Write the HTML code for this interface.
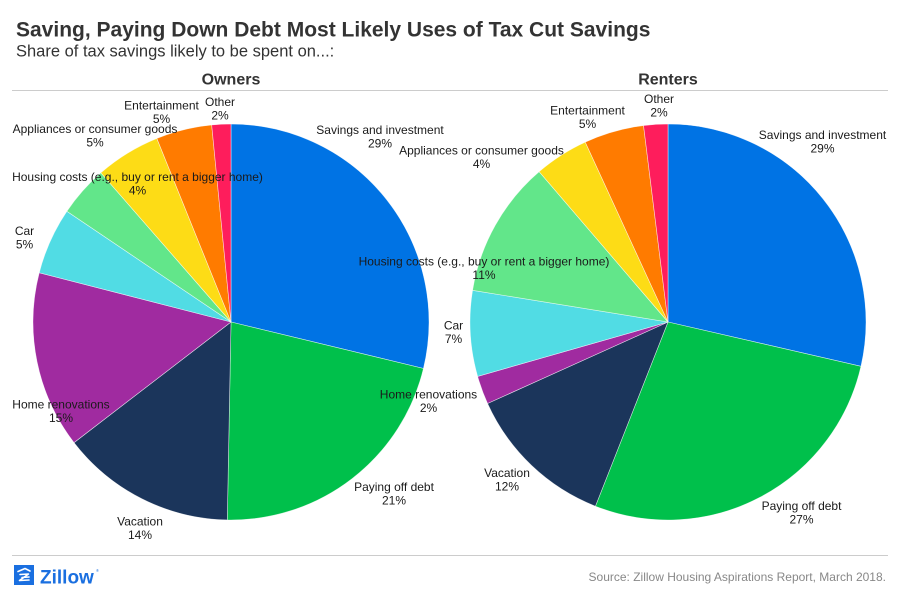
<!DOCTYPE html>
<html>
<head>
<meta charset="utf-8">
<style>
  html,body{margin:0;padding:0;background:#fff;}
  svg{display:block;}
  text{font-family:"Liberation Sans",Arial,sans-serif;}
</style>
</head>
<body>
<svg width="900" height="600" viewBox="0 0 900 600" xmlns="http://www.w3.org/2000/svg">
  <rect width="900" height="600" fill="#fff"/>

  <!-- Title -->
  <text x="16" y="36.5" font-size="21" font-weight="bold" fill="#333">Saving, Paying Down Debt Most Likely Uses of Tax Cut Savings</text>
  <text x="16" y="56.5" font-size="16.5" fill="#333">Share of tax savings likely to be spent on...:</text>

  <!-- Panel headers -->
  <text x="231" y="84.5" font-size="16" font-weight="bold" fill="#333" text-anchor="middle">Owners</text>
  <text x="668" y="84.5" font-size="16" font-weight="bold" fill="#333" text-anchor="middle">Renters</text>
  <line x1="12" y1="90.5" x2="888" y2="90.5" stroke="#cccccc" stroke-width="1"/>

  <!-- Owners pie -->
  <g stroke="#ffffff" stroke-width="0.6" stroke-opacity="0.7">
    <path d="M231,322 L231,124 A198,198 0 0 1 423.46,368.49 Z" fill="#0073e4"/>
    <path d="M231,322 L423.46,368.49 A198,198 0 0 1 227.30,519.97 Z" fill="#00c04b"/>
    <path d="M231,322 L227.30,519.97 A198,198 0 0 1 74.01,442.66 Z" fill="#1b355b"/>
    <path d="M231,322 L74.01,442.66 A198,198 0 0 1 39.22,272.76 Z" fill="#a02ba0"/>
    <path d="M231,322 L39.22,272.76 A198,198 0 0 1 66.85,211.28 Z" fill="#51dce4"/>
    <path d="M231,322 L66.85,211.28 A198,198 0 0 1 100.84,172.80 Z" fill="#62e68a"/>
    <path d="M231,322 L100.84,172.80 A198,198 0 0 1 156.83,138.42 Z" fill="#fddc16"/>
    <path d="M231,322 L156.83,138.42 A198,198 0 0 1 211.68,124.94 Z" fill="#ff7b00"/>
    <path d="M231,322 L211.68,124.94 A198,198 0 0 1 231,124 Z" fill="#fe1d5c"/>
  </g>

  <!-- Renters pie -->
  <g stroke="#ffffff" stroke-width="0.6" stroke-opacity="0.7">
    <path d="M668,322 L668,124 A198,198 0 0 1 860.97,366.34 Z" fill="#0073e4"/>
    <path d="M668,322 L860.97,366.34 A198,198 0 0 1 595.43,506.22 Z" fill="#00c04b"/>
    <path d="M668,322 L595.43,506.22 A198,198 0 0 1 487.54,403.48 Z" fill="#1b355b"/>
    <path d="M668,322 L487.54,403.48 A198,198 0 0 1 477.62,376.41 Z" fill="#a02ba0"/>
    <path d="M668,322 L477.62,376.41 A198,198 0 0 1 472.55,290.34 Z" fill="#51dce4"/>
    <path d="M668,322 L472.55,290.34 A198,198 0 0 1 539.15,171.66 Z" fill="#62e68a"/>
    <path d="M668,322 L539.15,171.66 A198,198 0 0 1 585.26,142.12 Z" fill="#fddc16"/>
    <path d="M668,322 L585.26,142.12 A198,198 0 0 1 643.53,125.52 Z" fill="#ff7b00"/>
    <path d="M668,322 L643.53,125.52 A198,198 0 0 1 668,124 Z" fill="#fe1d5c"/>
  </g>

  <!-- Owners labels -->
  <g font-size="12" fill="#1a1a1a" text-anchor="middle">
    <text x="380" y="134">Savings and investment</text>
    <text x="380" y="147.5">29%</text>
    <text x="394" y="491">Paying off debt</text>
    <text x="394" y="504.5">21%</text>
    <text x="140" y="525.5">Vacation</text>
    <text x="140" y="539">14%</text>
    <text x="61" y="408.5">Home renovations</text>
    <text x="61" y="422">15%</text>
    <text x="24.5" y="235">Car</text>
    <text x="24.5" y="248.5">5%</text>
    <text x="137.5" y="181">Housing costs (e.g., buy or rent a bigger home)</text>
    <text x="137.5" y="194.5">4%</text>
    <text x="95" y="133">Appliances or consumer goods</text>
    <text x="95" y="146.5">5%</text>
    <text x="161.5" y="109.5">Entertainment</text>
    <text x="161.5" y="123">5%</text>
    <text x="220" y="106">Other</text>
    <text x="220" y="119.5">2%</text>
  </g>

  <!-- Renters labels -->
  <g font-size="12" fill="#1a1a1a" text-anchor="middle">
    <text x="822.5" y="139">Savings and investment</text>
    <text x="822.5" y="152.5">29%</text>
    <text x="801.5" y="510">Paying off debt</text>
    <text x="801.5" y="523.5">27%</text>
    <text x="507" y="477">Vacation</text>
    <text x="507" y="490.5">12%</text>
    <text x="428.5" y="398.5">Home renovations</text>
    <text x="428.5" y="412">2%</text>
    <text x="453.5" y="329.5">Car</text>
    <text x="453.5" y="343">7%</text>
    <text x="484" y="265.5">Housing costs (e.g., buy or rent a bigger home)</text>
    <text x="484" y="279">11%</text>
    <text x="481.5" y="154.5">Appliances or consumer goods</text>
    <text x="481.5" y="168">4%</text>
    <text x="587.5" y="114.5">Entertainment</text>
    <text x="587.5" y="128">5%</text>
    <text x="659" y="103">Other</text>
    <text x="659" y="116.5">2%</text>
  </g>

  <!-- Footer -->
  <line x1="12" y1="555.5" x2="888" y2="555.5" stroke="#cccccc" stroke-width="1"/>
  <rect x="14" y="565" width="20" height="20" fill="#1a6fe0"/>
  <g fill="none" stroke="#ffffff" stroke-width="1.6" stroke-linejoin="round" stroke-linecap="round">
    <path d="M18,571.5 L25,568.5 L30,571"/>
    <path d="M20,574.5 L28.5,574 L19.5,580.5 L29,580"/>
    <path d="M22,577.5 L29,577"/>
  </g>
  <text x="40" y="583.5" font-size="19" font-weight="bold" fill="#1a6fe0">Zillow</text>
  <text x="96" y="572" font-size="4" fill="#1a6fe0">®</text>
  <text x="886" y="581" font-size="12" fill="#888" text-anchor="end">Source: Zillow Housing Aspirations Report, March 2018.</text>
</svg>
</body>
</html>
